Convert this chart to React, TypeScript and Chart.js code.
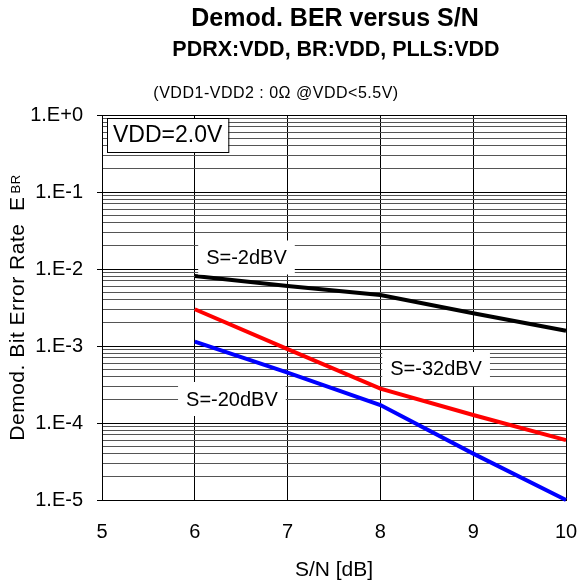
import React, { useEffect, useRef } from "react";
import { Chart, registerables } from "chart.js";

Chart.register(...registerables);

const snValues = [6, 7, 8, 9, 10];
const berS2 = [8.1e-3, 6.0e-3, 4.6e-3, 2.66e-3, 1.58e-3];
const berS32 = [3.0e-3, 9.1e-4, 2.8e-4, 1.27e-4, 6.0e-5];
const berS20 = [1.14e-3, 4.5e-4, 1.71e-4, 4.0e-5, 1.0e-5];
const seriesNames = ["S=-2dBV", "S=-32dBV", "S=-20dBV"];
const seriesColors = ["#000000", "#ff0000", "#0000ff"];
const xTicks = [5, 6, 7, 8, 9, 10];
const yDecades = [1e-5, 1e-4, 1e-3, 1e-2, 1e-1, 1];
const yMinorSteps = [1, 2, 3, 4, 5, 6, 7, 8, 9];
// label anchor positions in data coordinates (x, y)
const labelAnchors: [number, number][] = [
  [6.557, 1.41e-2],
  [8.6, 5.03e-4],
  [6.4, 2.05e-4],
];
const titleText = "Demod. BER versus S/N";
const subtitleText = "PDRX:VDD, BR:VDD, PLLS:VDD";
const noteText = "(VDD1-VDD2 : 0Ω @VDD<5.5V)";
const vddText = "VDD=2.0V";
const xTitle = "S/N [dB]";
const yTitleMain = "Demod. Bit Error Rate  E";
const yTitleSub = "BR";

const FONT = "'Liberation Sans', Arial, sans-serif";

function isDecade(v: number) {
  const l = Math.log10(v);
  return Math.abs(l - Math.round(l)) < 1e-9;
}

function decadeLabel(v: number) {
  const e = Math.round(Math.log10(v));
  return "1.E" + (e >= 0 ? "+" : "") + e;
}

const textPlugin = {
  id: "textPlugin",
  afterDatasetsDraw(chart: any) {
    const ctx = chart.ctx;
    const xs = chart.scales.x;
    const ys = chart.scales.y;
    ctx.save();
    ctx.font = `20px ${FONT}`;
    ctx.textAlign = "center";
    ctx.textBaseline = "middle";
    labelAnchors.forEach((a, i) => {
      const px = xs.getPixelForValue(a[0]);
      const py = ys.getPixelForValue(a[1]);
      const w = ctx.measureText(seriesNames[i]).width;
      ctx.fillStyle = "#ffffff";
      ctx.fillRect(px - w / 2 - 8, py - 17, w + 16, 34);
      ctx.fillStyle = "#000000";
      ctx.fillText(seriesNames[i], px, py + 1);
    });
    ctx.font = `23px ${FONT}`;
    const vw = ctx.measureText(vddText).width;
    const bx = chart.chartArea.left + 5;
    const by = chart.chartArea.top + 3;
    const bw = vw + 12;
    const bh = 34;
    ctx.fillStyle = "#ffffff";
    ctx.fillRect(bx, by, bw, bh);
    ctx.strokeStyle = "#000000";
    ctx.lineWidth = 1;
    ctx.strokeRect(bx + 0.5, by + 0.5, bw, bh);
    ctx.fillStyle = "#000000";
    ctx.textAlign = "center";
    ctx.fillText(vddText, bx + bw / 2, by + bh / 2 + 1);
    ctx.restore();
  },
  afterDraw(chart: any) {
    const ctx = chart.ctx;
    const area = chart.chartArea;
    const cx = (area.left + area.right) / 2;
    ctx.save();
    ctx.fillStyle = "#000000";
    ctx.textAlign = "center";
    ctx.textBaseline = "middle";
    ctx.font = `bold 25px ${FONT}`;
    ctx.fillText(titleText, cx + 1, 19.5);
    ctx.font = `bold 21.5px ${FONT}`;
    ctx.fillText(subtitleText, cx + 2, 50.5);
    ctx.font = `16px ${FONT}`;
    try { (ctx as any).letterSpacing = "0.5px"; } catch (e) {}
    ctx.fillText(noteText, 276, 93.5);
    try { (ctx as any).letterSpacing = "0px"; } catch (e) {}
    ctx.font = `21px ${FONT}`;
    ctx.fillText(xTitle, cx, 570);
    // rotated y title
    ctx.translate(0, (area.top + area.bottom) / 2);
    ctx.rotate(-Math.PI / 2);
    ctx.textBaseline = "alphabetic";
    ctx.textAlign = "left";
    try { (ctx as any).letterSpacing = "0.5px"; } catch (e) {}
    ctx.font = `21px ${FONT}`;
    const mw = ctx.measureText(yTitleMain).width;
    ctx.font = `13px ${FONT}`;
    const sw = ctx.measureText(yTitleSub).width;
    const start = -(mw + 3 + sw) / 2;
    const base = 24;
    ctx.font = `21px ${FONT}`;
    ctx.fillText(yTitleMain, start, base);
    ctx.font = `13px ${FONT}`;
    ctx.fillText(yTitleSub, start + mw + 3, base - 4);
    ctx.restore();
  },
};

export default function App() {
  const ref = useRef<HTMLCanvasElement | null>(null);
  useEffect(() => {
    if (!ref.current) return;
    const yTickValues: number[] = [];
    yDecades.forEach((d) => {
      if (d >= 1) {
        yTickValues.push(d);
      } else {
        yMinorSteps.forEach((m) => yTickValues.push(d * m));
      }
    });
    const chart = new Chart(ref.current, {
      type: "line",
      data: {
        datasets: [berS2, berS32, berS20].map((arr, i) => ({
          label: seriesNames[i],
          data: arr.map((v, j) => ({ x: snValues[j], y: v })),
          borderColor: seriesColors[i],
          backgroundColor: seriesColors[i],
          borderWidth: 4,
          pointRadius: 0,
          tension: 0,
          fill: false,
        })),
      },
      options: {
        responsive: false,
        animation: false,
        clip: false as any,
        layout: { padding: { top: 115, right: 13, left: 0, bottom: 0 } },
        plugins: {
          legend: { display: false },
          tooltip: { enabled: false },
          title: { display: false },
        },
        scales: {
          x: {
            type: "linear",
            min: 5,
            max: 10,
            afterBuildTicks: (scale: any) => {
              scale.ticks = xTicks.map((v) => ({ value: v }));
            },
            afterFit: (scale: any) => {
              scale.height = 84;
              scale.paddingLeft = 0;
              scale.paddingRight = 0;
            },
            ticks: {
              color: "#000",
              font: { family: FONT, size: 20 },
              padding: 20,
              autoSkip: false,
              maxRotation: 0,
            },
            grid: { color: "#000", lineWidth: 1, drawTicks: false },
            border: { color: "#000", width: 1 },
          },
          y: {
            type: "logarithmic",
            min: 1e-5,
            max: 1,
            afterBuildTicks: (scale: any) => {
              scale.ticks = yTickValues.map((v) => ({ value: v }));
            },
            afterFit: (scale: any) => {
              scale.width = 102;
              scale.paddingTop = 0;
              scale.paddingBottom = 0;
            },
            ticks: {
              color: "#000",
              font: { family: FONT, size: 20 },
              padding: 14,
              autoSkip: false,
              callback: (v: any) => (isDecade(Number(v)) ? decadeLabel(Number(v)) : ""),
            },
            grid: {
              color: (c: any) => (c.tick && isDecade(c.tick.value) ? "#000" : "#555"),
              tickColor: (c: any) => (c.tick && isDecade(c.tick.value) ? "#000" : "rgba(0,0,0,0)"),
              tickLength: 5,
              lineWidth: 1,
            },
            border: { color: "#000", width: 1 },
          },
        },
      },
      plugins: [textPlugin],
    });
    return () => chart.destroy();
  }, []);
  return (
    <div style={{ position: "absolute", left: 0, top: 0, width: 579, height: 584, overflow: "hidden", background: "#fff" }}>
      <canvas ref={ref} width={579} height={584} style={{ display: "block" }} />
    </div>
  );
}
